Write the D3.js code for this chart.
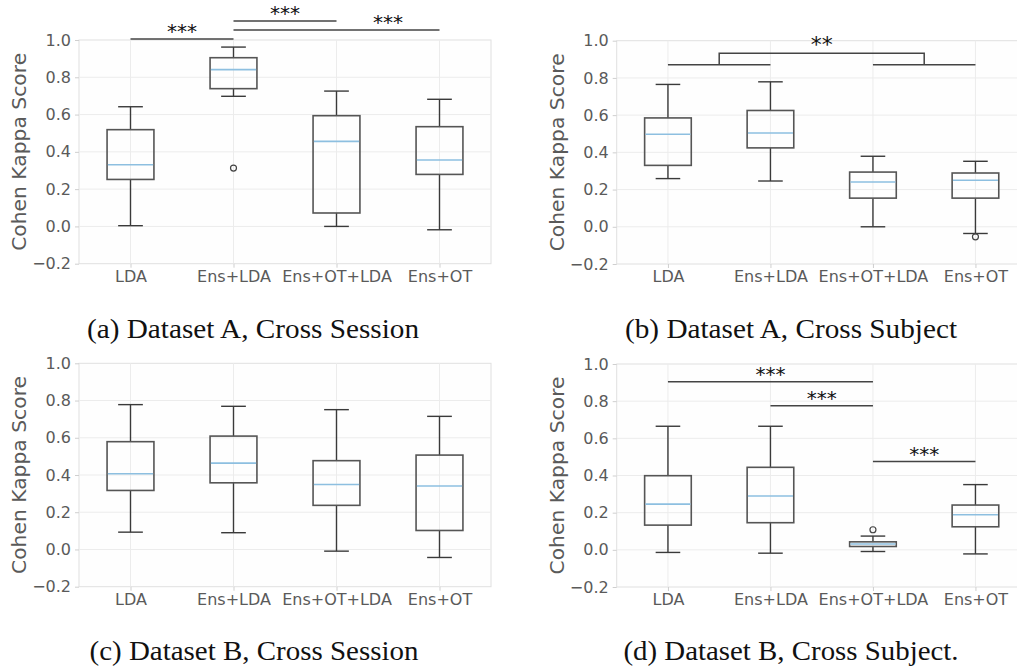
<!DOCTYPE html>
<html><head><meta charset="utf-8">
<script src="https://cdn.jsdelivr.net/npm/d3@7"></script>
<style>
html,body{margin:0;padding:0;background:#fff;}
svg{display:block;}
</style></head>
<body>
<svg id="chart" width="1017" height="668"></svg>
<script>
// ---- data ----
const categories = ["LDA", "Ens+LDA", "Ens+OT+LDA", "Ens+OT"];
const yTicks = [-0.2, 0.0, 0.2, 0.4, 0.6, 0.8, 1.0];
// box stats per category: [whiskerLow, Q1, median, Q3, whiskerHigh]
const statsA = [[0.004, 0.252, 0.331, 0.519, 0.642], [0.698, 0.739, 0.841, 0.905, 0.962], [0.000, 0.072, 0.456, 0.594, 0.726], [-0.018, 0.279, 0.356, 0.535, 0.682]];
const statsB = [[0.259, 0.330, 0.497, 0.585, 0.765], [0.246, 0.424, 0.504, 0.625, 0.779], [0.000, 0.154, 0.241, 0.294, 0.379], [-0.036, 0.154, 0.250, 0.289, 0.352]];
const statsC = [[0.093, 0.317, 0.407, 0.579, 0.778], [0.090, 0.358, 0.464, 0.609, 0.769], [-0.009, 0.237, 0.349, 0.477, 0.751], [-0.043, 0.102, 0.341, 0.507, 0.715]];
const statsD = [[-0.014, 0.133, 0.246, 0.399, 0.665], [-0.018, 0.146, 0.290, 0.444, 0.665], [-0.009, 0.018, 0.031, 0.043, 0.074], [-0.022, 0.124, 0.189, 0.241, 0.351]];
// outliers: [categoryIndex, value]
const outliersA = [[1, 0.313]];
const outliersB = [[3, -0.054]];
const outliersC = [];
const outliersD = [[2, 0.108]];
// significance bars: [fromIndex, toIndex, level, label, labelBetweenA, labelBetweenB]
const sigA = [[0, 1, 1.006, "***", 0, 1], [1, 2, 1.102, "***", 1, 2], [1, 3, 1.054, "***", 2, 3]];
const sigC = [];
const sigD = [[0, 2, 0.905, "***", 0, 2], [1, 2, 0.775, "***", 1, 2], [2, 3, 0.475, "***", 2, 3]];
// grouped bracket for B: group1 [0,1], group2 [2,3], lower level, upper level, label
const bracketB = [[0, 1], [2, 3], 0.871, 0.932, "**"];
const captions = ["(a) Dataset A, Cross Session", "(b) Dataset A, Cross Subject", "(c) Dataset B, Cross Session", "(d) Dataset B, Cross Subject."];

// ---- layout ----
const panels = [
  {stats: statsA, out: outliersA, sig: sigA, x0: 79, x1: 491, yTop: 40, yBot: 263.7, labelX: 19, cap: captions[0], capX: 253, capY: 338, capW: 332},
  {stats: statsB, out: outliersB, sig: [], bracket: bracketB, x0: 616.7, x1: 1026.7, yTop: 40.7, yBot: 264, labelX: 557, cap: captions[1], capX: 791, capY: 338, capW: 332},
  {stats: statsC, out: outliersC, sig: sigC, x0: 79, x1: 491, yTop: 363.3, yBot: 586.7, labelX: 19, cap: captions[2], capX: 254, capY: 660, capW: 329},
  {stats: statsD, out: outliersD, sig: sigD, x0: 616.7, x1: 1026.7, yTop: 364, yBot: 587, labelX: 557, cap: captions[3], capX: 791, capY: 660, capW: 335}
];

const svg = d3.select("#chart");
const gridCol = "#ececec", frameCol = "#e0e0e0", textCol = "#5a5a5a", boxCol = "#555", medCol = "#8dbfe0";

panels.forEach(p => {
  const g = svg.append("g");
  const x = d3.scalePoint().domain(categories).range([p.x0, p.x1]).padding(0.5);
  const y = d3.scaleLinear().domain([-0.2, 1.0]).range([p.yBot, p.yTop]);
  const bw = x.step() * 0.455, cw = x.step() * 0.24;

  // plot background
  g.append("rect").attr("x", p.x0).attr("y", p.yTop).attr("width", p.x1 - p.x0).attr("height", p.yBot - p.yTop)
    .attr("fill", "#fefefe").attr("stroke", frameCol).attr("stroke-width", 1);
  // grid
  g.selectAll(".hg").data(yTicks.slice(1, -1)).enter().append("line")
    .attr("x1", p.x0).attr("x2", p.x1).attr("y1", d => y(d)).attr("y2", d => y(d))
    .attr("stroke", gridCol).attr("stroke-width", 1);
  g.selectAll(".vg").data(categories).enter().append("line")
    .attr("x1", d => x(d)).attr("x2", d => x(d)).attr("y1", p.yTop).attr("y2", p.yBot)
    .attr("stroke", gridCol).attr("stroke-width", 1);

  // axes
  const ya = d3.axisLeft(y).tickValues(yTicks).tickSize(4).tickPadding(4)
    .tickFormat(d => d3.format(".1f")(d).replace("-", "\u2212"));
  const yg = g.append("g").attr("transform", `translate(${p.x0},0)`).call(ya);
  const xa = d3.axisBottom(x).tickSize(4).tickPadding(3);
  const xg = g.append("g").attr("transform", `translate(0,${p.yBot})`).call(xa);
  [yg, xg].forEach(a => {
    a.select(".domain").remove();
    a.selectAll(".tick line").attr("stroke", "#cfcfcf");
    a.selectAll(".tick text").attr("fill", textCol).attr("font-family", "DejaVu Sans").attr("font-size", 16);
  });

  // y label
  g.append("text").attr("transform", `translate(${p.labelX},${(p.yTop + p.yBot) / 2}) rotate(-90)`)
    .attr("text-anchor", "middle").attr("dominant-baseline", "central")
    .attr("font-family", "DejaVu Sans").attr("font-size", 20.3).attr("fill", textCol)
    .text("Cohen Kappa Score");

  // boxes
  const bg = g.selectAll(".box").data(p.stats).enter().append("g");
  bg.append("line").attr("x1", (d, i) => x(categories[i])).attr("x2", (d, i) => x(categories[i]))
    .attr("y1", d => y(d[0])).attr("y2", d => y(d[1])).attr("stroke", "#3a3a3a").attr("stroke-width", 1.4);
  bg.append("line").attr("x1", (d, i) => x(categories[i])).attr("x2", (d, i) => x(categories[i]))
    .attr("y1", d => y(d[3])).attr("y2", d => y(d[4])).attr("stroke", "#3a3a3a").attr("stroke-width", 1.4);
  [0, 4].forEach(k => {
    bg.append("line").attr("x1", (d, i) => x(categories[i]) - cw / 2).attr("x2", (d, i) => x(categories[i]) + cw / 2)
      .attr("y1", d => y(d[k])).attr("y2", d => y(d[k])).attr("stroke", "#3a3a3a").attr("stroke-width", 1.4);
  });
  bg.append("rect").attr("x", (d, i) => x(categories[i]) - bw / 2).attr("width", bw)
    .attr("y", d => y(d[3])).attr("height", d => y(d[1]) - y(d[3]))
    .attr("fill", "none").attr("stroke", boxCol).attr("stroke-width", 1.6);
  bg.append("line").attr("x1", (d, i) => x(categories[i]) - bw / 2 + 0.8).attr("x2", (d, i) => x(categories[i]) + bw / 2 - 0.8)
    .attr("y1", d => y(d[2])).attr("y2", d => y(d[2])).attr("stroke", medCol).attr("stroke-width", 1.6);

  // outliers
  g.selectAll(".out").data(p.out).enter().append("circle")
    .attr("cx", d => x(categories[d[0]])).attr("cy", d => y(d[1])).attr("r", 3)
    .attr("fill", "none").attr("stroke", "#444").attr("stroke-width", 1.2);

  // significance bars
  p.sig.forEach(s => {
    const xa1 = x(categories[s[0]]), xa2 = x(categories[s[1]]), yy = y(s[2]);
    const lx = (x(categories[s[4]]) + x(categories[s[5]])) / 2;
    g.append("line").attr("x1", xa1).attr("x2", xa2).attr("y1", yy).attr("y2", yy)
      .attr("stroke", "#444").attr("stroke-width", 1.5);
    g.append("text").attr("x", lx).attr("y", yy - 1).attr("text-anchor", "middle")
      .attr("font-family", "DejaVu Sans").attr("font-size", 20).attr("fill", "#111").text(s[3]);
  });

  if (p.bracket) {
    const [g1, g2, lo, hi, lab] = p.bracket;
    const a1 = x(categories[g1[0]]), a2 = x(categories[g1[1]]);
    const b1 = x(categories[g2[0]]), b2 = x(categories[g2[1]]);
    const ma = (a1 + a2) / 2, mb = (b1 + b2) / 2;
    const line = d3.line();
    g.append("path").attr("d", line([[a1, y(lo)], [a2, y(lo)]])).attr("stroke", "#444").attr("stroke-width", 1.5).attr("fill", "none");
    g.append("path").attr("d", line([[b1, y(lo)], [b2, y(lo)]])).attr("stroke", "#444").attr("stroke-width", 1.5).attr("fill", "none");
    g.append("path").attr("d", line([[ma, y(lo)], [ma, y(hi)], [mb, y(hi)], [mb, y(lo)]])).attr("stroke", "#444").attr("stroke-width", 1.5).attr("fill", "none");
    g.append("text").attr("x", (ma + mb) / 2).attr("y", y(hi) - 1).attr("text-anchor", "middle")
      .attr("font-family", "DejaVu Sans").attr("font-size", 22).attr("fill", "#111").text(lab);
  }

  // caption
  g.append("text").attr("x", p.capX).attr("y", p.capY).attr("text-anchor", "middle")
    .attr("font-family", "Liberation Serif").attr("font-size", 27).attr("fill", "#111")
    .attr("textLength", p.capW).attr("lengthAdjust", "spacingAndGlyphs").text(p.cap);
});
</script>
</body></html>
